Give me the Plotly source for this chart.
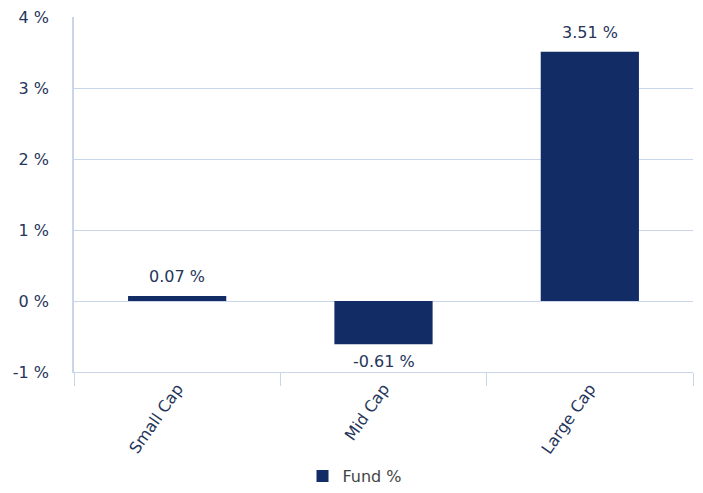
import plotly.graph_objects as go

categories = ["Small Cap", "Mid Cap", "Large Cap"]
fund_values = [0.07, -0.61, 3.51]
y_ticks = [-1, 0, 1, 2, 3, 4]
y_tick_labels = ["-1 %", "0 %", "1 %", "2 %", "3 %", "4 %"]

NAVY = "#122d66"
GRID = "#c9d5e9"
TEXT = "#26355a"
FONT = "DejaVu Sans"
SIZE = 16

fig = go.Figure()
fig.add_trace(go.Bar(
    x=categories,
    y=fund_values,
    name="Fund %",
    marker=dict(color=NAVY, line=dict(width=0)),
    cliponaxis=False,
))

# value labels sit a little away from the bar end (above positives, below negatives)
for cat, val in zip(categories, fund_values):
    fig.add_annotation(
        x=cat,
        y=val,
        text=f"{val:.2f} %",
        showarrow=False,
        yanchor="bottom" if val >= 0 else "top",
        yshift=8 if val >= 0 else -6,
        font=dict(family=FONT, size=SIZE, color=TEXT),
    )

fig.update_layout(
    width=703,
    height=493,
    margin=dict(l=74, r=10, t=17, b=121, autoexpand=False),
    paper_bgcolor="white",
    plot_bgcolor="white",
    bargap=0.524,
    font=dict(family=FONT, size=SIZE, color=TEXT),
    showlegend=True,
    legend=dict(
        orientation="h",
        xref="container",
        x=0.505,
        xanchor="center",
        yref="container",
        y=0.0,
        yanchor="bottom",
        font=dict(family=FONT, size=SIZE, color="#444444"),
    ),
    xaxis=dict(
        type="category",
        automargin=False,
        showgrid=False,
        showline=True,
        linecolor=GRID,
        linewidth=1,
        ticks="outside",
        tickson="boundaries",
        ticklen=13,
        tickcolor=GRID,
        tickwidth=1,
        tickangle=-55,
        tickfont=dict(family=FONT, size=SIZE, color=TEXT),
    ),
    yaxis=dict(
        range=[-1, 4],
        automargin=False,
        tickvals=y_ticks,
        ticktext=y_tick_labels,
        showgrid=True,
        gridcolor=GRID,
        gridwidth=1,
        zeroline=False,
        showline=True,
        linecolor=GRID,
        linewidth=1.5,
        ticks="",
        ticklabelstandoff=20,
        tickfont=dict(family=FONT, size=SIZE, color=TEXT),
    ),
)

fig.write_html("out.html")
